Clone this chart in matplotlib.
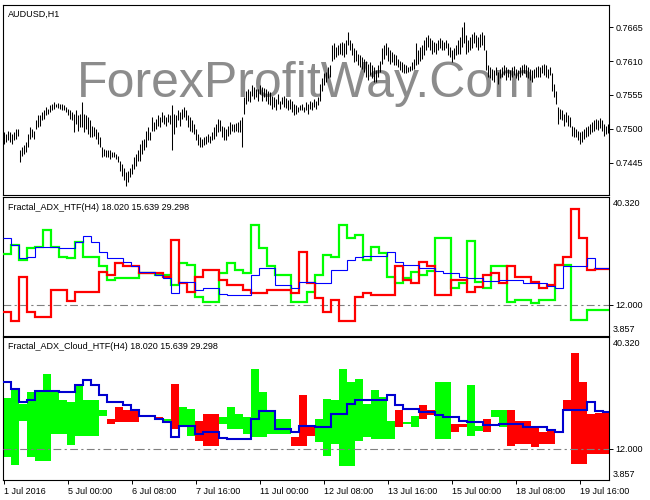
import matplotlib
matplotlib.use('Agg')
import matplotlib.pyplot as plt
import numpy as np

plt.rcParams['font.family'] = ['Liberation Sans', 'DejaVu Sans']

# ---------------- data ----------------
tick_bars = [0, 32, 64, 96, 128, 160, 192, 224, 256, 288]
tick_labels = ["1 Jul 2016", "5 Jul 00:00", "6 Jul 08:00", "7 Jul 16:00", "11 Jul 00:00",
               "12 Jul 08:00", "13 Jul 16:00", "15 Jul 00:00", "18 Jul 08:00", "19 Jul 16:00"]

price_ticks = [0.7445, 0.7500, 0.7555, 0.7610, 0.7665]

# AUDUSD H1 bar highs / lows, in points (1 point = 0.0001)
high_pts = [
    7494, 7492, 7497, 7494, 7492, 7494, 7500, 7500, 7465, 7470,
    7473, 7478, 7492, 7503, 7500, 7497, 7514, 7522, 7522, 7527,
    7530, 7535, 7533, 7538, 7541, 7543, 7541, 7542, 7541, 7540,
    7538, 7535, 7533, 7530, 7527, 7524, 7530, 7522, 7524, 7543,
    7524, 7522, 7519, 7514, 7505, 7503, 7500, 7494, 7486, 7470,
    7467, 7465, 7465, 7465, 7462, 7462, 7459, 7456, 7448, 7443,
    7437, 7429, 7432, 7437, 7443, 7454, 7459, 7465, 7475, 7481,
    7484, 7497, 7503, 7494, 7519, 7511, 7516, 7522, 7519, 7527,
    7522, 7519, 7524, 7522, 7538, 7524, 7522, 7530, 7527, 7533,
    7535, 7530, 7522, 7519, 7514, 7508, 7500, 7492, 7486, 7484,
    7486, 7489, 7492, 7489, 7494, 7503, 7508, 7516, 7514, 7505,
    7503, 7500, 7505, 7511, 7508, 7507, 7509, 7511, 7514, 7519,
    7552, 7562, 7565, 7562, 7571, 7568, 7565, 7565, 7571, 7568,
    7567, 7564, 7562, 7560, 7554, 7552, 7549, 7557, 7546, 7552,
    7554, 7550, 7547, 7549, 7546, 7541, 7538, 7535, 7538, 7541,
    7535, 7543, 7541, 7546, 7543, 7549, 7546, 7552, 7573, 7582,
    7590, 7592, 7601, 7603, 7636, 7639, 7633, 7636, 7639, 7641,
    7639, 7644, 7658, 7644, 7639, 7631, 7628, 7622, 7620, 7617,
    7614, 7611, 7606, 7609, 7603, 7601, 7595, 7603, 7611, 7631,
    7636, 7639, 7633, 7628, 7625, 7622, 7620, 7614, 7611, 7609,
    7606, 7603, 7601, 7602, 7609, 7614, 7639, 7628, 7633, 7636,
    7644, 7650, 7652, 7647, 7644, 7641, 7639, 7644, 7647, 7644,
    7641, 7644, 7639, 7633, 7628, 7631, 7636, 7644, 7650, 7666,
    7674, 7652, 7644, 7650, 7655, 7658, 7652, 7650, 7655, 7658,
    7652, 7628, 7603, 7601, 7598, 7595, 7601, 7592, 7598, 7601,
    7603, 7601, 7598, 7595, 7601, 7602, 7598, 7595, 7601, 7603,
    7606, 7603, 7601, 7598, 7595, 7598, 7601, 7602, 7601, 7603,
    7606, 7603, 7598, 7601, 7590, 7573, 7562, 7535, 7533, 7530,
    7524, 7527, 7522, 7519, 7505, 7503, 7500, 7497, 7494, 7497,
    7500, 7503, 7505, 7508, 7511, 7514, 7516, 7515, 7518, 7514,
    7508, 7505, 7507]
low_pts = [
    7475, 7478, 7481, 7478, 7475, 7481, 7484, 7489, 7446, 7456,
    7459, 7462, 7470, 7484, 7486, 7484, 7500, 7503, 7505, 7514,
    7516, 7522, 7524, 7527, 7530, 7533, 7535, 7534, 7533, 7531,
    7530, 7527, 7522, 7516, 7514, 7494, 7508, 7497, 7503, 7503,
    7494, 7500, 7492, 7486, 7486, 7489, 7484, 7475, 7470, 7454,
    7456, 7454, 7454, 7451, 7454, 7454, 7451, 7446, 7432, 7424,
    7416, 7407, 7413, 7421, 7427, 7435, 7440, 7448, 7448, 7459,
    7465, 7470, 7481, 7481, 7497, 7497, 7500, 7505, 7503, 7511,
    7508, 7505, 7511, 7508, 7465, 7492, 7503, 7514, 7505, 7516,
    7519, 7514, 7503, 7497, 7494, 7492, 7481, 7473, 7470, 7470,
    7473, 7475, 7478, 7477, 7481, 7484, 7489, 7494, 7497, 7486,
    7481, 7481, 7489, 7492, 7497, 7494, 7496, 7494, 7494, 7470,
    7524, 7541, 7546, 7543, 7554, 7549, 7552, 7546, 7557, 7546,
    7552, 7546, 7541, 7538, 7533, 7535, 7530, 7541, 7533, 7541,
    7536, 7534, 7530, 7533, 7527, 7522, 7524, 7527, 7530, 7530,
    7527, 7530, 7524, 7533, 7530, 7535, 7533, 7538, 7546, 7562,
    7571, 7576, 7582, 7584, 7611, 7614, 7617, 7620, 7622, 7620,
    7617, 7622, 7636, 7628, 7620, 7609, 7611, 7603, 7601, 7598,
    7592, 7584, 7579, 7587, 7582, 7576, 7576, 7584, 7592, 7606,
    7614, 7620, 7611, 7606, 7609, 7603, 7603, 7601, 7595, 7592,
    7591, 7590, 7592, 7594, 7595, 7598, 7603, 7606, 7611, 7614,
    7620, 7628, 7633, 7628, 7622, 7625, 7622, 7628, 7631, 7628,
    7628, 7631, 7620, 7617, 7609, 7614, 7620, 7622, 7622, 7633,
    7639, 7622, 7625, 7628, 7631, 7639, 7633, 7628, 7633, 7636,
    7628, 7595, 7584, 7582, 7579, 7576, 7587, 7573, 7582, 7584,
    7587, 7579, 7584, 7579, 7585, 7587, 7582, 7579, 7584, 7587,
    7590, 7584, 7582, 7579, 7576, 7582, 7584, 7585, 7584, 7590,
    7587, 7584, 7582, 7587, 7562, 7552, 7541, 7508, 7516, 7514,
    7505, 7511, 7505, 7503, 7489, 7486, 7486, 7481, 7475, 7478,
    7484, 7486, 7489, 7492, 7494, 7497, 7500, 7498, 7502, 7497,
    7489, 7492, 7493]

# Fractal ADX on H4 (one value per H4 period = 4 H1 bars)
plus_di = [25.3, 27.8, 23.8, 26.9, 27.1, 31.7, 27.1, 24.7, 24.2, 28.6,
           24.7, 24.7, 22.1, 18.5, 19.0, 19.0, 19.0, 20.3, 20.3, 19.9,
           19.9, 17.2, 22.9, 22.5, 14.1, 12.8, 12.8, 20.3, 22.9, 21.2,
           20.3, 33.0, 26.9, 22.1, 19.9, 19.9, 12.8, 12.8, 15.5, 19.9,
           25.1, 24.7, 32.9, 29.5, 30.4, 23.8, 27.3, 25.6, 19.4, 17.7,
           19.0, 20.7, 19.9, 20.9, 29.5, 29.5, 16.3, 17.7, 28.8, 18.1,
           16.5, 22.1, 22.1, 12.8, 13.3, 13.3, 12.4, 13.3, 13.3, 22.5,
           22.5, 8.0, 8.0, 10.6, 10.6, 10.6]
minus_di = [10.0, 7.7, 19.4, 10.0, 8.9, 8.9, 15.9, 15.9, 13.0, 15.5,
            15.5, 15.5, 20.7, 19.9, 22.9, 22.1, 22.1, 20.3, 20.3, 20.3,
            19.2, 29.1, 17.7, 15.5, 19.4, 21.2, 21.2, 18.5, 17.2, 17.2,
            15.9, 15.0, 15.0, 15.9, 15.9, 15.9, 15.0, 26.0, 17.7, 13.7,
            10.2, 13.3, 7.6, 7.6, 14.1, 15.0, 14.6, 14.6, 14.6, 22.1,
            18.5, 17.7, 23.4, 22.1, 14.6, 14.6, 18.5, 18.5, 15.5, 16.8,
            19.9, 20.3, 17.7, 22.1, 19.4, 19.4, 18.1, 16.3, 17.2, 22.5,
            24.7, 37.2, 29.5, 21.2, 21.4, 21.4]
adx = [29.5, 27.8, 24.2, 24.7, 27.1, 27.1, 27.1, 26.9, 26.9, 28.6,
       30.0, 28.6, 26.0, 24.2, 24.2, 23.4, 22.1, 20.7, 20.7, 19.9,
       19.0, 15.0, 17.9, 17.9, 15.9, 16.3, 16.3, 14.8, 14.6, 14.6,
       14.6, 19.9, 21.8, 21.8, 17.2, 17.2, 16.3, 17.9, 17.9, 17.7,
       17.7, 21.2, 21.2, 23.8, 24.7, 24.9, 24.9, 24.9, 26.0, 23.4,
       22.5, 22.5, 21.6, 21.6, 20.9, 20.3, 20.3, 19.4, 19.0, 19.0,
       18.3, 18.3, 18.5, 18.5, 18.5, 17.7, 17.7, 17.7, 17.0, 16.3,
       22.1, 22.1, 22.1, 24.4, 21.8, 21.6]

ind_min, ind_max, ind_level = 3.857, 40.32, 12.0
title1 = "AUDUSD,H1"
title2 = "Fractal_ADX_HTF(H4) 18.020 15.639 29.298"
title3 = "Fractal_ADX_Cloud_HTF(H4) 18.020 15.639 29.298"
watermark = "ForexProfitWay.Com"

# ---------------- figure ----------------
W, H = 650, 500
fig = plt.figure(figsize=(6.5, 5), dpi=100)
fig.patch.set_facecolor('white')

def rect(l, t, r, b):
    return [l / W, 1 - b / H, (r - l) / W, (b - t) / H]

ax1 = fig.add_axes(rect(3.3, 5, 609.3, 195))
ax2 = fig.add_axes(rect(3.3, 197.3, 609.3, 335.7))
ax3 = fig.add_axes(rect(3.3, 337.3, 609.3, 480))

n_bars = len(high_pts)
FS = 6.5
for ax in (ax1, ax2, ax3):
    ax.set_xlim(-0.3, n_bars - 0.3)
    for s in ax.spines.values():
        s.set_linewidth(0.8)
        s.set_color('black')
    ax.yaxis.tick_right()
    ax.tick_params(axis='y', direction='out', length=3, width=0.7, pad=1.5, labelsize=FS)
    ax.tick_params(axis='x', direction='out', length=3, width=0.7, labelsize=FS)
    ax.set_xticks([])

# ---- panel 1: price bars ----
highs = np.array(high_pts) / 10000.0
lows = np.array(low_pts) / 10000.0
bx = np.arange(n_bars)
ax1.vlines(bx, lows, highs, color='black', linewidth=0.75, zorder=3)
ax1.set_ylim(0.73923, 0.77014)
ax1.set_yticks(price_ticks)
ax1.set_yticklabels([f"{v:.4f}" for v in price_ticks])
ax1.text(0.007, 0.975, title1, transform=ax1.transAxes, fontsize=FS, va='top', ha='left')
fig.text(306 / W, 1 - 97 / H, watermark, fontsize=36, color='#8c8c8c', ha='center',
         va='baseline', zorder=0)
ax1.set_zorder(2)
ax1.patch.set_alpha(0)

# ---- step edges for H4 values ----
edges = np.minimum(np.arange(len(adx) + 1) * 4 - 0.5, n_bars - 0.5)
pdi = np.array(plus_di)
mdi = np.array(minus_di)
adx_a = np.array(adx)

# ---- panel 2: lines ----
ax2.set_ylim(ind_min, ind_max)
ax2.axhline(ind_level, color='#808080', linewidth=0.8, dashes=(7, 3, 2, 3), zorder=1)
ax2.stairs(pdi, edges, baseline=None, color='#00ff00', linewidth=1.6, zorder=3)
ax2.stairs(mdi, edges, baseline=None, color='#ff0000', linewidth=1.6, zorder=4)
ax2.stairs(adx_a, edges, baseline=None, color='#0000ff', linewidth=0.8, zorder=5)
ax2.set_yticks([ind_level])
ax2.set_yticklabels([f"{ind_level:.3f}"])
ax2.text(0.007, 0.96, title2, transform=ax2.transAxes, fontsize=FS, va='top', ha='left')
ax2.text(1.006, 0.99, f"{ind_max:.3f}", transform=ax2.transAxes, fontsize=FS, va='top', ha='left')
ax2.text(1.006, 0.01, f"{ind_min:.3f}", transform=ax2.transAxes, fontsize=FS, va='bottom', ha='left')

# ---- panel 3: cloud ----
ax3.set_ylim(ind_min, ind_max + 0.9)
lefts = edges[:-1]
widths = np.diff(edges)
bottoms = np.minimum(pdi, mdi)
heights = np.abs(pdi - mdi)
cols = np.where(pdi >= mdi, '#00ff00', '#ff0000')
ax3.bar(lefts, heights, width=widths, bottom=bottoms, align='edge', color=cols,
        linewidth=0, zorder=2)
ax3.axhline(ind_level, color='#808080', linewidth=0.8, dashes=(7, 3, 2, 3), zorder=4)
ax3.stairs(adx_a, edges, baseline=None, color='#0000d0', linewidth=1.5, zorder=5)
ax3.set_yticks([ind_level])
ax3.set_yticklabels([f"{ind_level:.3f}"])
ax3.text(0.007, 0.965, title3, transform=ax3.transAxes, fontsize=FS, va='top', ha='left')
ax3.text(1.006, 0.985, f"{ind_max:.3f}", transform=ax3.transAxes, fontsize=FS, va='top', ha='left')
ax3.text(1.006, 0.01, f"{ind_min:.3f}", transform=ax3.transAxes, fontsize=FS, va='bottom', ha='left')
ax3.set_xticks(tick_bars)
ax3.set_xticklabels(tick_labels)
ax3.tick_params(axis='x', pad=2)
for lbl in ax3.get_xticklabels():
    lbl.set_horizontalalignment('left')

fig.savefig('out.png', dpi=100, facecolor='white')
